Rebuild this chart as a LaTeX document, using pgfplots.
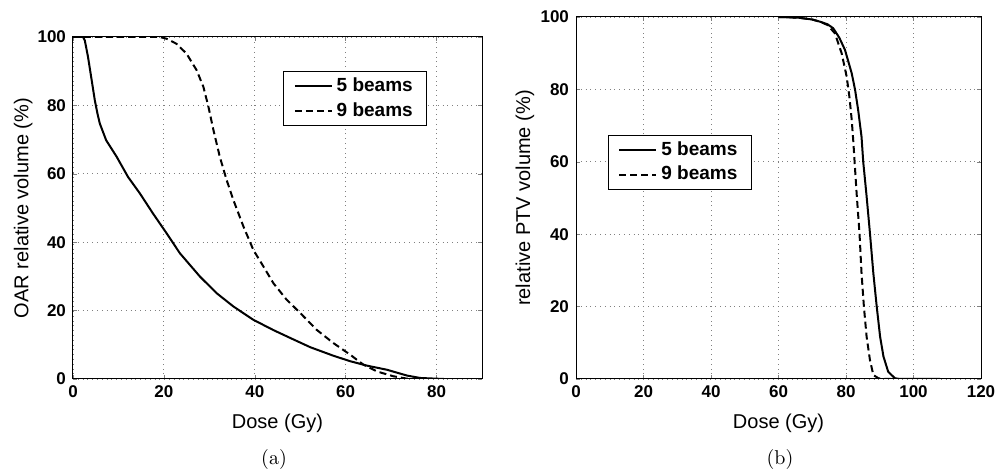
\documentclass[border=0pt]{standalone}
\usepackage{fontspec}
\setsansfont{Liberation Sans}
\usepackage{pgfplots}
\pgfplotsset{compat=1.18}

\pgfplotsset{
  dvh/.style={
    scale only axis,
    font=\sffamily\fontsize{10}{12}\selectfont,
    tick label style={font=\sffamily\bfseries\fontsize{8.5}{10}\selectfont},
    /pgf/number format/assume math mode=true,
    grid=major,
    grid style={dotted, gray},
    axis line style={line width=0.5pt},
    tick align=inside,
    major tick length=2pt,
    ymin=0, ymax=100, ytick={0,20,...,100},
    xmin=0,
    xlabel={Dose (Gy)},
    no markers,
    cycle list={{black,solid},{black,dash pattern=on 3.5pt off 2pt}},
    every axis plot post/.append style={line width=1pt},
    legend cell align=left,
    legend image code/.code={\draw[#1] (0cm,0cm) -- (0.65cm,0cm);},
    legend style={draw=black, line width=0.4pt, fill=white,
      font=\sffamily\bfseries\fontsize{9.5}{11}\selectfont,
      inner xsep=5pt, inner ysep=1pt},
  },
}

\begin{document}
\begin{tikzpicture}
\path[use as bounding box] (0,0) rectangle (499.5pt,237.5pt);

% (a) OAR
\begin{axis}[dvh,
  at={(36.5pt,48pt)}, anchor=south west,
  width=204.5pt, height=171pt,
  xmax=90, xtick={0,20,...,80},
  ylabel={OAR relative volume (\%)},
  xlabel style={at={(axis description cs:0.5,-0.129)}, anchor=center},
  ylabel style={at={(axis description cs:-0.122,0.5)}, anchor=center},
  legend style={at={(0.866,0.90)}, anchor=north east},
]
\addplot coordinates {
  (0,100) (2.2,100) (2.6,99) (3.3,94.2) (4.0,88.3) (4.8,81.5) (5.4,77.5)
  (5.9,74.7) (7.3,69.8) (9.6,65) (12.1,59.1) (14.7,54.3) (17.6,48.4)
  (20.6,42.6) (23.5,36.8) (27.9,30) (31.6,25.1) (35.3,21.2) (39.7,17.3)
  (44.1,14.3) (47.8,12) (52.2,9.3) (57.3,6.8) (61,5.2) (64.7,3.9)
  (69.1,2.7) (73.5,1) (76.4,0.3) (81.6,0)
};
\addlegendentry{5 beams}
\addplot coordinates {
  (0,100) (19.1,100) (20.6,99.5) (22.8,98) (25,95.1) (27.2,90.3)
  (28.7,85.4) (29.8,79.6) (30.9,72.8) (32.3,65) (33.8,58.2) (35.3,52.3)
  (37.5,44.6) (39.7,37.7) (41.9,32.9) (44.1,28) (47,23.2) (50,19.3)
  (53.6,14.4) (57.3,10.5) (61,7.1) (63.9,4.2) (66.9,2.2) (70.5,0.8)
  (73.5,0.1) (75,0)
};
\addlegendentry{9 beams}
\end{axis}

% (b) PTV
\begin{axis}[dvh,
  at={(288pt,48pt)}, anchor=south west,
  width=202.5pt, height=181pt,
  xmax=120, xtick={0,20,...,120},
  ylabel={relative PTV volume (\%)},
  xlabel style={at={(axis description cs:0.5,-0.1215)}, anchor=center},
  ylabel style={at={(axis description cs:-0.126,0.5)}, anchor=center},
  legend style={at={(0.079,0.674)}, anchor=north west},
]
\addplot coordinates {
  (60,100) (66,99.8) (70,99.3) (72.3,98.7) (74.5,98) (76.2,96.9)
  (78,94.3) (79.7,90.9) (81.7,84.4) (82.7,79.8) (83.6,74.3) (84.6,66.9)
  (85.1,60) (86.1,50.5) (87.1,40.2) (88.1,29.2) (89.1,20) (90.1,11.7)
  (91.1,6.2) (92.5,2) (94.5,0.2) (96,0) (107.9,0)
};
\addlegendentry{5 beams}
\addplot coordinates {
  (60,100) (66,99.8) (70,99.3) (72.3,98.7) (74.5,97.8) (76.7,95.5)
  (78.7,90) (80.2,83.5) (81,78) (81.7,71.5) (82.2,65.1) (82.7,57.7)
  (83.2,50.5) (84,40.2) (84.6,29.2) (85.3,20) (86.1,11.7) (87.1,5.2)
  (88.1,1.1) (89.6,0.2) (91,0) (94,0)
};
\addlegendentry{9 beams}
\end{axis}

\node[font=\fontsize{10}{12}\selectfont] at (137pt,7.5pt) {(a)};
\node[font=\fontsize{10}{12}\selectfont] at (390pt,7.5pt) {(b)};
\end{tikzpicture}
\end{document}
